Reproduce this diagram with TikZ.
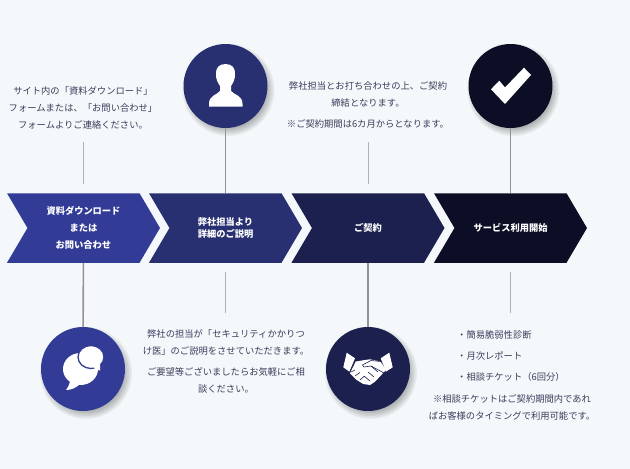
\documentclass[tikz,border=0pt]{standalone}
\usepackage{fontspec}
\setmainfont{Noto Sans CJK JP}
\usetikzlibrary{shapes.symbols}
\definecolor{pagebg}{HTML}{F4F8FA}
\definecolor{stepa}{HTML}{323C96}
\definecolor{stepb}{HTML}{293071}
\definecolor{stepc}{HTML}{1B204E}
\definecolor{stepd}{HTML}{0C0E25}
\definecolor{bodytext}{HTML}{3A3D5C}
\begin{document}
\begin{tikzpicture}[
    x=1pt, y=-1pt,
    stepbox/.style={signal, signal from=west, signal to=east, signal pointer angle=119, minimum width=153pt, minimum height=69.5pt, inner sep=0pt, outer sep=0pt, align=center, text=white, font=\fontsize{9.25}{11.5}\selectfont\bfseries},
    badge/.style={circle, minimum size=84pt, inner sep=0pt, outer sep=0pt},
    note/.style={align=center, text=bodytext, font=\fontsize{9.3}{17}\selectfont, inner sep=0pt},
    a/.style={line width=1.6pt, color=black!42},
    stub/.style={line width=1pt, color=black!30},
    icon/.style={fill=white, draw=none}
]
    \fill[pagebg] (0,0) rectangle (630,469);
    \useasboundingbox (0,0) rectangle (630,469);
    % soft shadows under the circles
    \foreach \px/\py in {225.5/86, 510.5/86, 83/369, 368/369}
        \foreach \r in {37,38.5,...,47}
            \fill[black, opacity=.05] (\px+3,\py+4) circle (\r);

    \node[stepbox, fill=stepa] (req)  at (83.5,228)  {資料ダウンロード\\[5.5pt]または\\[5.5pt]お問い合わせ};
    \node[stepbox, fill=stepb] (talk) at (225.5,228) {弊社担当より\\詳細のご説明};
    \node[stepbox, fill=stepc] (sign) at (368,228)   {ご契約};
    \node[stepbox, fill=stepd] (use)  at (510.5,228) {サービス利用開始};

    \node[badge, fill=stepb] (person) at (225.5,86) {};
    \node[badge, fill=stepd] (check)  at (510.5,86) {};
    \node[badge, fill=stepa] (chat)   at (83,369)   {};
    \node[badge, fill=stepc] (deal)   at (368,369)  {};

    \draw[a] (person) -- (talk);
    \draw[a] (check) -- (use);
    \draw[a] (req) -- (chat);
    \draw[a] (sign) -- (deal);

    \node[note] (reqtext) at (83,108) {サイト内の「資料ダウンロード」\\フォームまたは、「お問い合わせ」\\フォームよりご連絡ください。};
    \node[note] (signtext) at (368,105) {弊社担当とお打ち合わせの上、ご契約\\締結となります。\\[4pt]※ご契約期間は6カ月からとなります。};
    \node[note] (talktext) at (226,361.5) {弊社の担当が「セキュリティかかりつ\\け医」のご説明をさせていただきます。\\[4pt]ご要望等ございましたらお気軽にご相\\談ください。};
    \node[note, align=left, anchor=north west, font=\fontsize{9.3}{21}\selectfont] (uselist) at (457,330) {・簡易脆弱性診断\\・月次レポート\\・相談チケット（6回分）};
    \node[note] (usetext) at (512,407) {※相談チケットはご契約期間内であれ\\ばお客様のタイミングで利用可能です。};

    \coordinate (s1a) at (83,142);   \coordinate (s1b) at (83,184);
    \coordinate (s2a) at (225.5,272); \coordinate (s2b) at (225.5,313);
    \coordinate (s3a) at (368,142);  \coordinate (s3b) at (368,184);
    \coordinate (s4a) at (510.5,272); \coordinate (s4b) at (510.5,313);
    \draw[stub] (s1a) -- (s1b);
    \draw[stub] (s2a) -- (s2b);
    \draw[stub] (s3a) -- (s3b);
    \draw[stub] (s4a) -- (s4b);

    % person
    \fill[icon] (225.5,64) .. controls (219,64) and (216,68) .. (216,73) .. controls (215.5,79) and (218,83) .. (220,86) -- (220,91) .. controls (217,95) and (209,95) .. (209,104) -- (209,106.5) -- (242.5,106.5) -- (242.5,104) .. controls (242.5,95) and (234,95) .. (231,91) -- (231,86) .. controls (233,83) and (235.5,79) .. (235,73) .. controls (235,68) and (232,64) .. (225.5,64) -- cycle;
    % check mark
    \fill[icon] (491,89.3) -- (499.3,80.7) -- (505,87.5) -- (524,67.7) -- (531,75) -- (505,104) -- cycle;
    % speech bubbles
    \fill[icon] (80.5,369) ellipse (17.5 and 16);
    \fill[icon] (66,390) .. controls (69,386) and (70,383) .. (70,379) -- (80,384) .. controls (76,388) and (71,390) .. (66,390) -- cycle;
    \fill[icon, draw=stepa, line width=1.3pt] (91,357) ellipse (13 and 11.5);
    \fill[icon] (100,370.5) .. controls (96,370) and (94,368) .. (92,366) -- (100,362) .. controls (100,366) and (100,368) .. (100,370.5) -- cycle;
    % handshake
    \fill[icon] (346.7,352.7) -- (355,358.3) -- (349.3,371.7) -- (343.3,367.3) -- cycle;
    \fill[icon] (389.3,352.7) -- (392.7,367.3) -- (386,371.7) -- (380.7,358.3) -- cycle;
    \fill[icon] (355.7,361.5) -- (365,360) -- (370,359.3) -- (380.5,361.5) -- (386,370) -- (375,381.7) -- (370,385) -- (363.3,384) -- (356.7,380) -- (350,373.3) -- cycle;
    \draw[stepc, line width=.6pt] (381,361.5) -- (371,360.5) -- (362.5,365) -- (364,367) -- (371,366) -- (384,373);
    \draw[stepc, line width=.6pt] (371,366) -- (378,372) (368,372) -- (374,377) (364,376) -- (370,381) (351,372) -- (355,370) (355,376) -- (360,372.5) (360,380) -- (364.5,376);
\end{tikzpicture}
\end{document}
